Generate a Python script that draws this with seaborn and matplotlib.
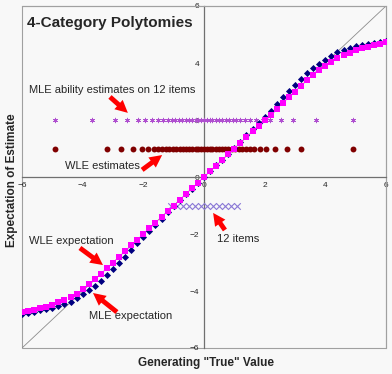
import numpy as np
import pandas as pd
import seaborn as sns
import matplotlib.pyplot as plt
from matplotlib.patches import Rectangle

# generating "true" values
true_vals = [-6.0, -5.8, -5.6, -5.4, -5.2, -5.0, -4.8, -4.6, -4.4, -4.2,
             -4.0, -3.8, -3.6, -3.4, -3.2, -3.0, -2.8, -2.6, -2.4, -2.2,
             -2.0, -1.8, -1.6, -1.4, -1.2, -1.0, -0.8, -0.6, -0.4, -0.2,
             0.0, 0.2, 0.4, 0.6, 0.8, 1.0, 1.2, 1.4, 1.6, 1.8,
             2.0, 2.2, 2.4, 2.6, 2.8, 3.0, 3.2, 3.4, 3.6, 3.8,
             4.0, 4.2, 4.4, 4.6, 4.8, 5.0, 5.2, 5.4, 5.6, 5.8, 6.0]

# WLE expectation
wle_exp = [-4.75, -4.71, -4.67, -4.61, -4.55, -4.48, -4.40, -4.32, -4.22, -4.10,
           -3.94, -3.77, -3.58, -3.39, -3.19, -3.00, -2.80, -2.60, -2.40, -2.20,
           -2.00, -1.80, -1.60, -1.40, -1.20, -1.00, -0.80, -0.60, -0.40, -0.20,
           0.00, 0.20, 0.40, 0.60, 0.80, 1.00, 1.20, 1.40, 1.60, 1.79,
           1.99, 2.19, 2.39, 2.59, 2.79, 2.99, 3.19, 3.39, 3.57, 3.74,
           3.90, 4.04, 4.16, 4.27, 4.36, 4.44, 4.51, 4.57, 4.63, 4.68, 4.72]

# MLE expectation
mle_exp = [-4.80, -4.76, -4.72, -4.68, -4.64, -4.59, -4.53, -4.45, -4.37, -4.25,
           -4.12, -3.98, -3.82, -3.65, -3.45, -3.24, -3.02, -2.79, -2.57, -2.33,
           -2.10, -1.88, -1.68, -1.46, -1.24, -1.03, -0.82, -0.61, -0.41, -0.20,
           0.00, 0.20, 0.41, 0.61, 0.82, 1.03, 1.24, 1.46, 1.68, 1.88,
           2.10, 2.33, 2.57, 2.79, 3.02, 3.24, 3.45, 3.65, 3.82, 3.98,
           4.12, 4.25, 4.37, 4.45, 4.53, 4.59, 4.63, 4.67, 4.70, 4.73, 4.76]

# MLE ability estimates on 12 items (shown at y=2)
mle_est = [-4.92, -3.68, -2.95, -2.53, -2.19, -1.94, -1.72, -1.53, -1.35, -1.20,
           -1.07, -0.94, -0.82, -0.71, -0.60, -0.49, -0.38, -0.28, -0.19, -0.09,
           0.00, 0.09, 0.19, 0.28, 0.38, 0.49, 0.60, 0.71, 0.82, 0.94,
           1.07, 1.20, 1.35, 1.53, 1.72, 1.94, 2.19, 2.53, 2.95, 3.68, 4.92]
mle_est_y = 2

# WLE estimates (shown at y=1)
wle_est = [-4.90, -3.19, -2.72, -2.35, -2.06, -1.84, -1.66, -1.52, -1.39, -1.26,
           -1.14, -1.02, -0.91, -0.80, -0.69, -0.58, -0.48, -0.38, -0.28, -0.19,
           -0.09, 0.00, 0.09, 0.19, 0.28, 0.38, 0.48, 0.58, 0.69, 0.80,
           0.91, 1.02, 1.14, 1.26, 1.39, 1.52, 1.66, 1.84, 2.06, 2.35,
           2.72, 3.19, 4.90]
wle_est_y = 1

# 12 items (shown at y=-1)
items = [-1.1, -0.9, -0.7, -0.5, -0.3, -0.1, 0.1, 0.3, 0.5, 0.7, 0.9, 1.1]
items_y = -1

ticks = [-6, -4, -2, 0, 2, 4, 6]

bg = '#f8f8f8'
sns.set_style('white')
plt.rcParams['font.family'] = ['Liberation Sans', 'DejaVu Sans']

fig = plt.figure(figsize=(3.92, 3.74), dpi=100, facecolor=bg)
ax = fig.add_axes([22/392, 1-348/374, 364/392, 342/374])
ax.set_facecolor(bg)

curves = pd.DataFrame({'true': true_vals, 'wle': wle_exp, 'mle': mle_exp})

# diagonal identity line
ax.plot([-6, 6], [-6, 6], color='#8c8c8c', lw=0.6, zorder=1)

sns.scatterplot(x=items, y=[items_y]*len(items), marker='x', s=22, color='#8a78d6',
                linewidth=0.8, ax=ax, zorder=3)
sns.scatterplot(x=mle_est, y=[mle_est_y]*len(mle_est), marker=(6, 2, 0), s=11,
                color='#b050d0', linewidth=0.6, ax=ax, zorder=3)
sns.scatterplot(x=wle_est, y=[wle_est_y]*len(wle_est), marker='o', s=18,
                color='#800000', linewidth=0, ax=ax, zorder=3)
sns.scatterplot(data=curves, x='true', y='mle', marker='D', s=13, color='#000080',
                linewidth=0, ax=ax, zorder=4)
sns.scatterplot(data=curves, x='true', y='wle', marker='s', s=24, color='#ff00ff',
                linewidth=0, ax=ax, zorder=5)

ax.set_xlim(-6, 6)
ax.set_ylim(-6, 6)
ax.set_xticks(ticks)
ax.set_yticks(ticks)
ax.tick_params(labelsize=6, length=2, width=0.6, color='#606060', pad=1.5)

# axes through the origin
ax.spines['left'].set_position('zero')
ax.spines['bottom'].set_position('zero')
for s in ['left', 'bottom']:
    ax.spines[s].set_color('#707070')
    ax.spines[s].set_linewidth(0.9)
for s in ['top', 'right']:
    ax.spines[s].set_color('#a0a0a0')
    ax.spines[s].set_linewidth(0.8)
ax.add_patch(Rectangle((0, 0), 1, 1, transform=ax.transAxes, fill=False,
                       ec='#a0a0a0', lw=0.8, clip_on=False, zorder=0))

ax.set_xlabel('Generating "True" Value', fontsize=8.5, fontweight='bold')
ax.set_ylabel('Expectation of Estimate', fontsize=8.5, fontweight='bold')
ax.xaxis.set_label_coords(0.505, -0.026)
ax.yaxis.set_label_coords(-0.012, 0.49)

ax.text(0.014, 0.95, '4-Category Polytomies', transform=ax.transAxes,
        fontsize=11, fontweight='bold', va='center', ha='left')

# labels and red arrows
notes = [
    ('MLE ability estimates on 12 items', (-3.03, 3.05), (-3.1, 2.81), (-2.51, 2.25)),
    ('WLE estimates', (-3.36, 0.39), (-2.04, 0.25), (-1.38, 0.77)),
    ('WLE expectation', (-4.39, -2.25), (-4.09, -2.49), (-3.33, -3.09)),
    ('MLE expectation', (-2.41, -4.88), (-2.87, -4.74), (-3.66, -4.07)),
    ('12 items', (1.12, -2.18), (0.69, -1.86), (0.3, -1.26)),
]
for label, pos, tail, tip in notes:
    ax.text(pos[0], pos[1], label, fontsize=8, ha='center', va='center', zorder=6)
    ax.annotate('', xy=tip, xytext=tail,
                arrowprops=dict(arrowstyle='simple,head_length=0.9,head_width=0.9,tail_width=0.35',
                                fc='red', ec='red', lw=0, shrinkA=0, shrinkB=0,
                                mutation_scale=10), zorder=6)

plt.savefig('out.png', dpi=100, facecolor=bg)
plt.close()
